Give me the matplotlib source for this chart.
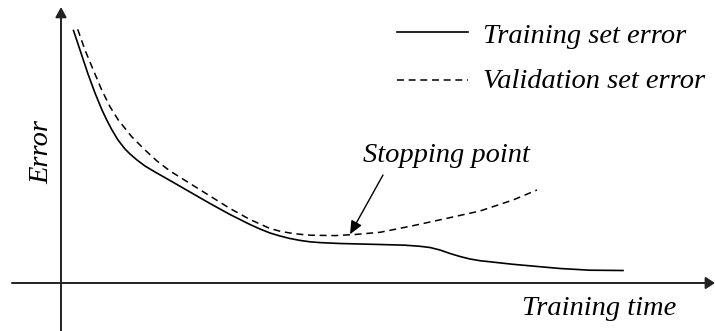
import matplotlib
matplotlib.use("Agg")
import matplotlib.pyplot as plt

# training time vs error (arbitrary units)
train_time = [1.25, 2.0, 2.7, 3.4, 4.1, 4.6, 5.1, 5.7, 6.4, 6.9, 7.6, 8.4, 9.4, 10.9,
              12.9, 14.9, 16.9, 18.9, 19.9, 20.9, 21.9, 22.9, 23.9, 24.9, 25.9, 27.9,
              31.9, 34.4, 35.9, 36.9, 37.9, 38.9, 39.9, 40.9, 41.9, 45.2, 49.9, 52.9,
              56.2]
train_err = [25.25, 23.0, 20.9, 19.0, 17.3, 16.25, 15.3, 14.3, 13.4, 12.9, 12.3, 11.7,
             11.1, 10.25, 9.1, 7.95, 6.85, 5.85, 5.4, 5.0, 4.7, 4.45, 4.26, 4.12, 4.04,
             3.95, 3.85, 3.78, 3.67, 3.55, 3.3, 2.95, 2.65, 2.4, 2.23, 1.87, 1.45,
             1.28, 1.25]

val_time = [1.67, 2.4, 3.23, 4.07, 4.9, 5.73, 7.07, 8.4, 9.6, 10.9, 12.9, 14.9, 16.9,
            18.9, 20.9, 21.9, 22.9, 23.9, 24.9, 27.4, 29.4, 31.9, 35.2, 38.6, 41.9,
            45.2, 47.6]
val_err = [25.37, 23.3, 21.3, 19.3, 17.63, 16.3, 14.63, 13.3, 12.2, 11.2, 9.95, 8.7,
           7.45, 6.35, 5.45, 5.18, 5.0, 4.87, 4.78, 4.74, 4.85, 5.07, 5.73, 6.47, 7.2,
           8.3, 9.3]

stop_point = (28.9, 4.87)

plt.rcParams['lines.scale_dashes'] = False
font = dict(family='Liberation Serif', style='italic', size=20.5, color='black')

fig = plt.figure(figsize=(7.15, 3.31), dpi=100)
ax = fig.add_axes([0, 0, 1, 1])
ax.set_xlim(-6.1, 65.4)
ax.set_ylim(-4.8, 28.3)
ax.axis('off')

axis_col = '#222222'
ax.annotate('', xy=(65.4, 0), xytext=(-4.9, 0),
            arrowprops=dict(arrowstyle='-|>,head_length=0.55,head_width=0.36',
                            lw=1.4, color=axis_col, shrinkA=0, shrinkB=0,
                            mutation_scale=10))
ax.annotate('', xy=(0, 27.6), xytext=(0, -4.8),
            arrowprops=dict(arrowstyle='-|>,head_length=0.6,head_width=0.33',
                            lw=1.4, color=axis_col, shrinkA=0, shrinkB=0,
                            mutation_scale=10))

ax.plot(train_time, train_err, color='black', lw=1.2, solid_joinstyle='round')
ax.plot(val_time, val_err, color='black', lw=1.1, dashes=(5, 3.4))

# legend drawn by hand
ax.plot([33.6, 40.7], [25.1, 25.1], color='black', lw=1.2)
ax.plot([33.6, 40.7], [20.3, 20.3], color='black', lw=1.1, dashes=(5, 3.4))
ax.text(42.2, 24.0, 'Training set error', va='baseline', ha='left', **font)
ax.text(42.2, 19.5, 'Validation set error', va='baseline', ha='left', **font)

# stopping point
ax.annotate('', xy=stop_point, xytext=(32.2, 10.8),
            arrowprops=dict(arrowstyle='-|>,head_length=0.8,head_width=0.35',
                            lw=1.0, color='black', shrinkA=0, shrinkB=0,
                            mutation_scale=10))
ax.text(30.2, 12.1, 'Stopping point', va='baseline', ha='left', **font)

ax.text(46.1, -3.2, 'Training time', va='baseline', ha='left', **font)
ax.text(-1.3, 13.15, 'Error', va='baseline', ha='center', rotation=90,
        rotation_mode='anchor', **font)

fig.savefig('out.png', dpi=100)
